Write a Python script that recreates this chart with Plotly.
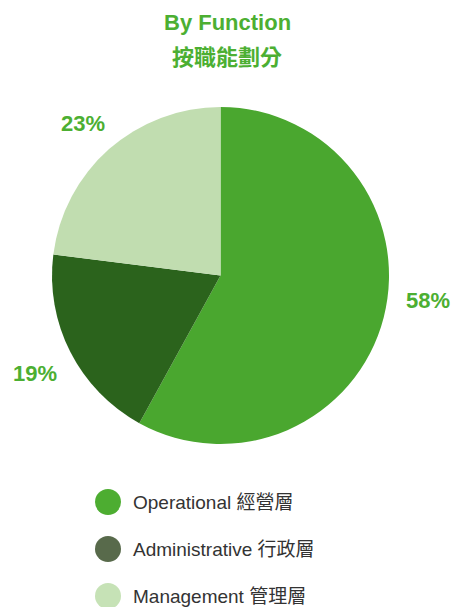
import math
import plotly.graph_objects as go

categories = ["Operational 經營層", "Administrative 行政層", "Management 管理層"]
values = [58, 19, 23]
pie_colors = ["#4aa72f", "#2b631c", "#c1ddb0"]
legend_colors = ["#4dad31", "#586a4b", "#c6e2b6"]
title_en = "By Function"
title_zh = "按職能劃分"

W, H = 454, 607
green = "#4caf32"

fig = go.Figure()
dom_x = [52 / W, 389 / W]
dom_y = [1 - 444 / H, 1 - 107 / H]
fig.add_trace(go.Pie(
    labels=categories, values=values, sort=False, direction="clockwise",
    rotation=0, textinfo="none", hoverinfo="label+percent",
    marker=dict(colors=pie_colors, line=dict(width=0)),
    domain=dict(x=dom_x, y=dom_y), showlegend=False,
))

# percentage labels outside slices
cx = (dom_x[0] + dom_x[1]) / 2 * W
cy = (1 - (dom_y[0] + dom_y[1]) / 2) * H
total = sum(values)
cum = 0
label_r = 208
for i, v in enumerate(values):
    mid = (cum + v / 2) / total * 2 * math.pi
    cum += v
    px = cx + label_r * math.sin(mid)
    py = cy - label_r * math.cos(mid)
    shift = (6, 27) if i == 0 else (0, -4)
    fig.add_annotation(x=px / W, y=1 - py / H, xref="paper", yref="paper",
                       xanchor="center", yanchor="middle",
                       xshift=shift[0], yshift=shift[1],
                       text=f"<b>{round(v / total * 100)}%</b>", showarrow=False,
                       font=dict(family="Liberation Sans, Arial", size=22, color=green))

# titles
fig.add_annotation(x=0.5, y=1 - 22 / H, xref="paper", yref="paper", text=f"<b>{title_en}</b>",
                   xanchor="center", yanchor="middle",
                   showarrow=False, font=dict(family="Liberation Sans, Arial", size=22, color=green))
fig.add_annotation(x=0.5, y=1 - 55 / H, xref="paper", yref="paper", text=f"<b>{title_zh}</b>",
                   xanchor="center", yanchor="middle",
                   showarrow=False, font=dict(family="Noto Sans CJK TC", size=22, color=green))

# custom legend
for i, (lab, col) in enumerate(zip(categories, legend_colors)):
    ly = 502 + i * 47
    fig.add_shape(type="circle", xref="paper", yref="paper",
                  x0=95 / W, x1=121 / W, y0=1 - (ly + 13) / H, y1=1 - (ly - 13) / H,
                  fillcolor=col, line=dict(width=0))
    fig.add_annotation(x=131 / W, y=1 - ly / H, xref="paper", yref="paper", text=lab,
                       showarrow=False, xanchor="left", yanchor="middle",
                       font=dict(family="Liberation Sans, Noto Sans CJK TC", size=19, color="#333333"))

fig.update_layout(width=W, height=H, margin=dict(l=0, r=0, t=0, b=0),
                  paper_bgcolor="white", plot_bgcolor="white")
fig.write_html("out.html", config={"displayModeBar": False},
               post_script="document.body.style.margin='0';")
